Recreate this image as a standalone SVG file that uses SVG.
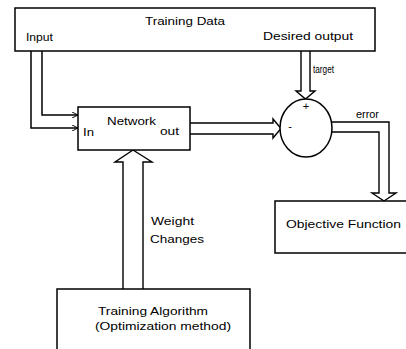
<svg xmlns="http://www.w3.org/2000/svg" width="406" height="349" viewBox="0 0 406 349">
<style>
.box{fill:#fff;stroke:#000;stroke-width:1.5}
.ln{fill:none;stroke:#000;stroke-width:1.5}
.blk{fill:#fff;stroke:#000;stroke-width:1.4;stroke-linejoin:miter}
text{font-family:"Liberation Sans",Arial,sans-serif;font-size:11px;fill:#000}
</style>
<defs>
<marker id="ah" viewBox="0 0 10 10" refX="10" refY="5" markerWidth="6" markerHeight="6" orient="auto" markerUnits="userSpaceOnUse">
<path d="M0,0 L10,5 L0,10" fill="none" stroke="#000" stroke-width="1.6"/>
</marker>
</defs>
<rect width="406" height="349" fill="#fff"/>
<g id="connectors">
<path class="ln" d="M42,51 V115 H78" marker-end="url(#ah)"/>
<path class="ln" d="M31,51 V128 H78" marker-end="url(#ah)"/>
<path class="blk" d="M190,123 H273 V119 L281,128.5 L273,138 V134 H190"/>
<path class="blk" d="M301,51 V91 H296 L305.5,99 L315,91 H310 V51"/>
<path class="blk" d="M332,122 H389 V193 H396 L384,201 L372,193 H379 V132 H332"/>
<path class="blk" d="M123,289 V162 H115 L133,150 L152,162 H143 V289"/>
</g>
<g id="training-data">
<rect class="box" x="15" y="8" width="360" height="43"/>
<text x="185" y="25" text-anchor="middle" textLength="80" lengthAdjust="spacingAndGlyphs">Training Data</text>
<text x="26" y="41" textLength="27" lengthAdjust="spacingAndGlyphs">Input</text>
<text x="263" y="40" textLength="90" lengthAdjust="spacingAndGlyphs">Desired output</text>
</g>
<g id="network">
<rect class="box" x="78" y="107" width="112" height="43"/>
<text x="107" y="125" textLength="49" lengthAdjust="spacingAndGlyphs">Network</text>
<text x="83" y="136" textLength="11" lengthAdjust="spacingAndGlyphs">In</text>
<text x="160" y="135" textLength="19" lengthAdjust="spacingAndGlyphs">out</text>
</g>
<g id="summing">
<ellipse class="box" cx="306" cy="128" rx="26" ry="29"/>
<text x="306" y="110" text-anchor="middle" font-size="9">+</text>
<text x="290" y="130" text-anchor="middle" font-size="9">-</text>
</g>
<g id="objective">
<rect class="box" x="275" y="201" width="140" height="52"/>
<text x="286" y="228" textLength="115" lengthAdjust="spacingAndGlyphs">Objective Function</text>
</g>
<g id="training-algorithm">
<rect class="box" x="57" y="289" width="193" height="70"/>
<text x="98" y="315" textLength="110" lengthAdjust="spacingAndGlyphs">Training Algorithm</text>
<text x="95" y="330" textLength="136" lengthAdjust="spacingAndGlyphs">(Optimization method)</text>
</g>
<g id="labels">
<text x="313" y="73" font-size="10" textLength="21" lengthAdjust="spacingAndGlyphs">target</text>
<text x="356" y="118" textLength="23" lengthAdjust="spacingAndGlyphs">error</text>
<text x="151" y="225" textLength="43" lengthAdjust="spacingAndGlyphs">Weight</text>
<text x="150" y="243" textLength="54" lengthAdjust="spacingAndGlyphs">Changes</text>
</g>
</svg>
